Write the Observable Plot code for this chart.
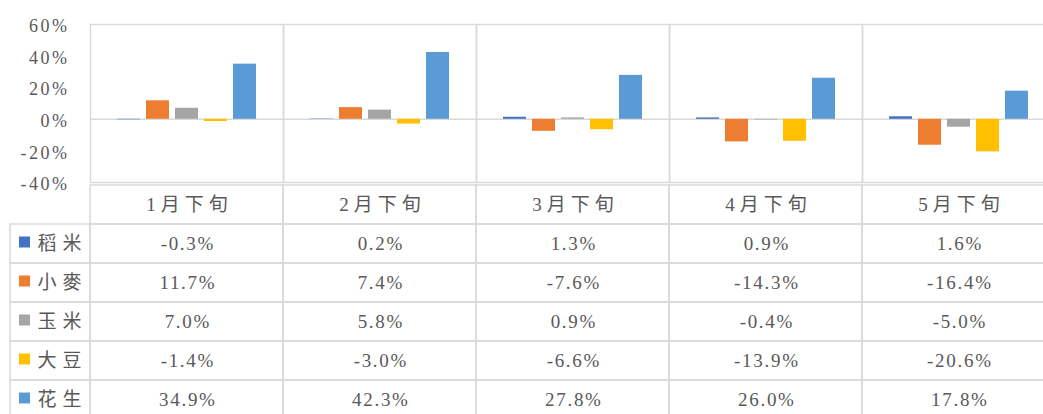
<!DOCTYPE html>
<html>
<head>
<meta charset="utf-8">
<script src="https://cdn.jsdelivr.net/npm/d3@7"></script>
<script src="https://cdn.jsdelivr.net/npm/@observablehq/plot@0.6"></script>
<style>
  html, body { margin: 0; padding: 0; background: #fff; overflow: hidden; }
  #wrap { position: relative; width: 1043px; height: 414px; overflow: hidden; background: #fff; }
  #wrap svg { position: absolute; left: 0; max-width: none !important; }
  g[aria-label="y-axis tick label"] text { letter-spacing: 2.5px; }
</style>
</head>
<body>
<div id="wrap"></div>
<script>
const categories = ["1月下旬", "2月下旬", "3月下旬", "4月下旬", "5月下旬"];
const crops = ["稻米", "小麥", "玉米", "大豆", "花生"];
const cropColors = ["#4472C4", "#ED7D31", "#A5A5A5", "#FFC000", "#5B9BD5"];
const rice = [-0.3, 0.2, 1.3, 0.9, 1.6];
const wheat = [11.7, 7.4, -7.6, -14.3, -16.4];
const corn = [7.0, 5.8, 0.9, -0.4, -5.0];
const soybean = [-1.4, -3.0, -6.6, -13.9, -20.6];
const peanut = [34.9, 42.3, 27.8, 26.0, 17.8];
const yTicks = [60, 40, 20, 0, -20, -40];

const series = [rice, wheat, corn, soybean, peanut];
const rows = [];
crops.forEach((crop, i) => {
  categories.forEach((category, j) => {
    rows.push({category, crop, value: series[i][j]});
  });
});
const tableRows = ["header", ...crops];
const cellData = [];
categories.forEach(category => tableRows.forEach(row => cellData.push({category, row})));

const grid = "#d9d9d9";
const textColor = "#595959";
const font = "'Liberation Serif', 'Noto Sans CJK SC', serif";

const chart = Plot.plot({
  width: 1056,
  height: 183,
  marginTop: 24,
  marginBottom: 1,
  marginLeft: 90,
  marginRight: 1,
  style: {fontFamily: font, fontSize: "18px", color: textColor, background: "transparent", overflow: "visible", maxWidth: "none"},
  fx: {domain: categories, padding: 0, axis: null},
  x: {domain: crops, paddingInner: 0.22, paddingOuter: 0.88, axis: null},
  y: {domain: [-40, 60], axis: null},
  color: {domain: crops, range: cropColors},
  marks: [
    Plot.frame({stroke: grid, strokeWidth: 1.5}),
    Plot.ruleY([0], {stroke: grid, strokeWidth: 1.5}),
    Plot.barY(rows, {fx: "category", x: "crop", y: "value", fill: "crop"}),
    Plot.axisY({ticks: yTicks, tickSize: 0, tickPadding: 21, tickFormat: d => d + "%", dy: 2, fill: textColor, label: null})
  ]
});
chart.style.top = "0px";

const table = Plot.plot({
  width: 1056,
  height: 243,
  marginTop: 2,
  marginBottom: 2,
  marginLeft: 90,
  marginRight: 1,
  style: {fontFamily: font, fontSize: "19px", color: textColor, background: "transparent", overflow: "visible", maxWidth: "none"},
  fx: {domain: categories, padding: 0, axis: null},
  y: {domain: tableRows, padding: 0, axis: null},
  color: {domain: crops, range: cropColors},
  marks: [
    Plot.cell(cellData, {fx: "category", y: "row", fill: "none", stroke: grid, strokeWidth: 1.5}),
    Plot.cell(crops, {fx: () => categories[0], y: d => d, fill: "none", stroke: grid, strokeWidth: 1.5, insetLeft: -80, insetRight: 193}),
    Plot.dot(crops, {fx: () => categories[0], y: d => d, frameAnchor: "left", dx: -66, dy: -2, symbol: "square", r: 6.2, fill: d => d}),
    Plot.text(crops, {fx: () => categories[0], y: d => d, text: d => d, frameAnchor: "left", dx: -53, textAnchor: "start", fill: textColor, fontSize: 19}),
    Plot.text(categories, {fx: d => d, y: () => "header", text: d => d, frameAnchor: "middle", dx: 2.5, fill: textColor, fontSize: 19}),
    Plot.text(rows, {fx: "category", y: "crop", text: d => d.value.toFixed(1) + "%", frameAnchor: "middle", dx: 0.85, fill: textColor, fontSize: 19})
  ]
});
table.style.top = "180px";

d3.select(table).selectAll("text").each(function () {
  const t = this.textContent;
  let ls = null;
  if (categories.includes(t)) ls = "5px";
  else if (crops.includes(t)) ls = "6px";
  else if (t.endsWith("%")) ls = "1.7px";
  if (ls) this.style.letterSpacing = ls;
});

const wrap = document.getElementById("wrap");
wrap.appendChild(chart);
wrap.appendChild(table);
</script>
</body>
</html>
